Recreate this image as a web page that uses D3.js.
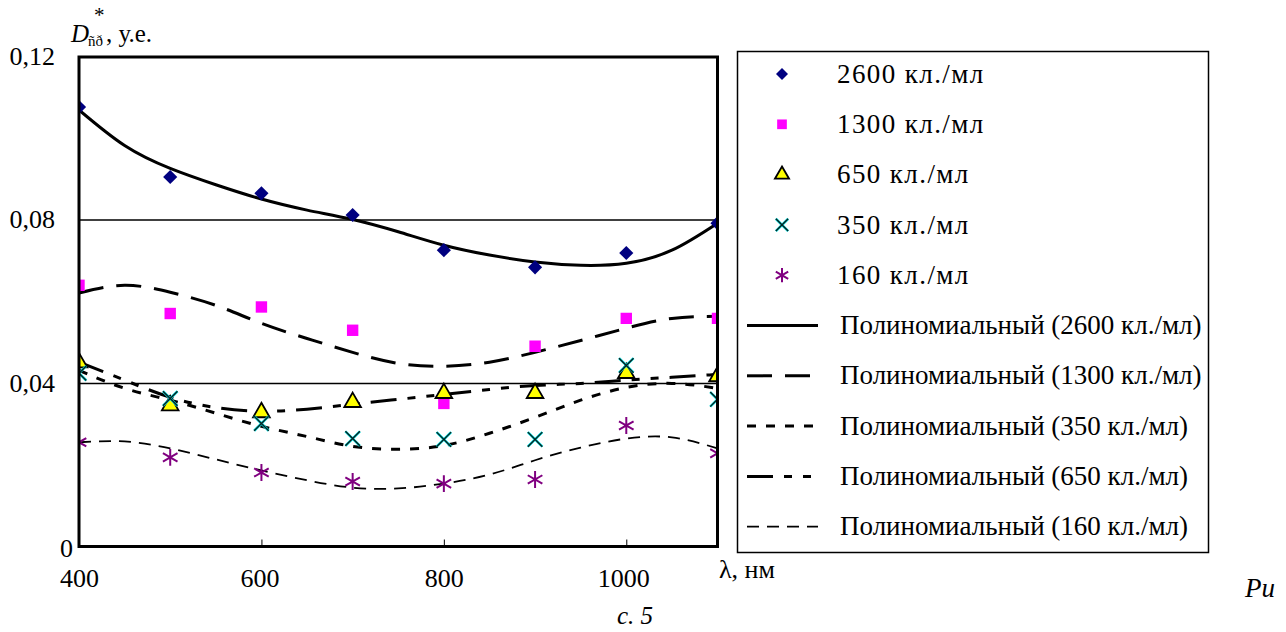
<!DOCTYPE html>
<html><head><meta charset="utf-8">
<script src="https://cdn.jsdelivr.net/npm/d3@7"></script>
<style>
body{margin:0;background:#fff}
svg{display:block}
text{font-family:"Liberation Serif","Times New Roman",serif;fill:#000}
</style>
</head><body>
<svg id="c" width="1286" height="632"></svg>
<script>
// ---- data ----
const wavelengths = [400, 500, 600, 700, 800, 900, 1000, 1100];
const s2600 = [0.1075, 0.0904, 0.0864, 0.0811, 0.0725, 0.0683, 0.0718, 0.0791];
const s1300 = [0.0639, 0.0570, 0.0586, 0.0529, 0.0350, 0.0490, 0.0558, 0.0558];
const s650  = [0.0450, 0.0345, 0.0328, 0.0353, 0.0375, 0.0375, 0.0424, 0.0416];
const s350  = [0.0424, 0.0362, 0.0301, 0.0264, 0.0262, 0.0262, 0.0443, 0.0360];
const s160  = [0.0255, 0.0218, 0.0181, 0.0159, 0.0154, 0.0164, 0.0296, 0.0228];

// trend lines
const trendX = [400, 450, 500, 550, 600, 650, 700, 750, 800, 850, 900, 950, 1000, 1050, 1100];
const t2600 = [0.1068, 0.0981, 0.0925, 0.0885, 0.0850, 0.0823, 0.0800, 0.0770, 0.0737, 0.0713, 0.0696, 0.0688, 0.0693, 0.0725, 0.0791];
const t1300 = [0.0620, 0.0639, 0.0622, 0.0590, 0.0546, 0.0509, 0.0475, 0.0448, 0.0441, 0.0451, 0.0475, 0.0504, 0.0534, 0.0558, 0.0563];
const t650  = [0.0451, 0.0407, 0.0365, 0.0340, 0.0331, 0.0336, 0.0348, 0.0360, 0.0372, 0.0384, 0.0394, 0.0399, 0.0407, 0.0414, 0.0421];
const t350  = [0.0431, 0.0387, 0.0358, 0.0326, 0.0294, 0.0269, 0.0245, 0.0238, 0.0247, 0.0277, 0.0316, 0.0358, 0.0389, 0.0399, 0.0387];
const t160  = [0.0255, 0.0257, 0.0240, 0.0213, 0.0186, 0.0162, 0.0144, 0.0142, 0.0154, 0.0176, 0.0211, 0.0242, 0.0264, 0.0267, 0.0240];

const seriesNames = ["2600 кл./мл", "1300 кл./мл", "650 кл./мл", "350 кл./мл", "160 кл./мл"];
const trendNames = ["Полиномиальный (2600 кл./мл)", "Полиномиальный (1300 кл./мл)", "Полиномиальный (350 кл./мл)", "Полиномиальный (650 кл./мл)", "Полиномиальный (160 кл./мл)"];
const yTicks = [0, 0.04, 0.08, 0.12];
const xTicks = [400, 600, 800, 1000];

// ---- styles ----
const markers = [
  {vals: s2600, type: "diamond"},
  {vals: s1300, type: "square"},
  {vals: s650, type: "triangle"},
  {vals: s350, type: "times"},
  {vals: s160, type: "asterisk"}
];
const trends = [
  {vals: t2600, dash: null, w: 3},
  {vals: t1300, dash: "25,13", w: 3},
  {vals: t350, dash: "9,10", w: 3},
  {vals: t650, dash: "26,11,8,11,8,11", w: 3},
  {vals: t160, dash: "12,8", w: 1.8}
];

const svg = d3.select("#c");
const L = 79, R = 717.5, T = 56, B = 546.5;
const x = d3.scaleLinear().domain([400, 1100]).range([L, R]);
const y = d3.scaleLinear().domain([0, 0.12]).range([B, T]);

svg.append("defs").append("clipPath").attr("id", "pc")
  .append("rect").attr("x", L).attr("y", T).attr("width", R - L).attr("height", B - T);

// gridlines
svg.append("g").attr("transform", `translate(${L},0)`)
  .call(d3.axisLeft(y).tickValues([0.04, 0.08]).tickSize(-(R - L)).tickFormat(""))
  .call(g => g.select(".domain").remove())
  .call(g => g.selectAll("line").attr("stroke", "#000").attr("stroke-width", 1.3));

// inner x ticks
svg.append("g").attr("transform", `translate(0,${B})`)
  .call(d3.axisBottom(x).tickValues([600, 800, 1000]).tickSize(-7).tickFormat(""))
  .call(g => g.select(".domain").remove())
  .call(g => g.selectAll("line").attr("stroke", "#000").attr("stroke-width", 1));

// y labels
svg.append("g").attr("transform", `translate(${L},0)`)
  .call(d3.axisLeft(y).tickValues(yTicks).tickSize(0).tickPadding(24)
    .tickFormat(d => d === 0 ? "0" : d3.format(".2f")(d).replace(".", ",")))
  .call(g => g.select(".domain").remove())
  .call(g => g.selectAll("text").attr("font-size", 26).attr("font-family", '"Liberation Serif",serif')
    .attr("dx", d => d === 0 ? 18 : 0).attr("dy", d => d === 0 ? "0.4em" : "0.32em"));

// x labels
svg.append("g").attr("transform", `translate(0,${B})`)
  .call(d3.axisBottom(x).tickValues(xTicks).tickSize(0).tickPadding(22).tickFormat(d3.format("d")))
  .call(g => g.select(".domain").remove())
  .call(g => g.selectAll("text").attr("font-size", 26).attr("font-family", '"Liberation Serif",serif')
    .attr("dx", d => d >= 1000 ? -3 : (d === 600 ? -2 : 0)));

// trend lines
const plot = svg.append("g").attr("clip-path", "url(#pc)");
const line = d3.line().x((d, i) => x(trendX[i])).y(d => y(d)).curve(d3.curveNatural);
trends.forEach(t => {
  plot.append("path").attr("d", line(t.vals)).attr("fill", "none").attr("stroke", "#000")
    .attr("stroke-width", t.w).attr("stroke-dasharray", t.dash)
    .attr("stroke-linejoin", "round");
});

// markers
function drawMarker(g, type, cx, cy, scale) {
  const s = scale || 1;
  if (type === "diamond") {
    g.append("path").attr("d", d3.symbol(d3.symbolSquare, 100 * s * s)())
      .attr("transform", `translate(${cx},${cy}) rotate(45)`).attr("fill", "#000080");
  } else if (type === "square") {
    g.append("path").attr("d", d3.symbol(d3.symbolSquare, 130 * s * s)())
      .attr("transform", `translate(${cx},${cy})`).attr("fill", "#ff00ff");
  } else if (type === "triangle") {
    g.append("path").attr("d", d3.symbol(d3.symbolTriangle, 120 * s * s)())
      .attr("transform", `translate(${cx},${cy})`).attr("fill", "#ffff00")
      .attr("stroke", "#000").attr("stroke-width", 1.8).attr("stroke-linejoin", "miter");
  } else if (type === "times") {
    const p = d3.symbol(d3.symbolTimes, 140 * s * s)();
    g.append("path").attr("d", p).attr("transform", `translate(${cx},${cy})`)
      .attr("fill", "none").attr("stroke", "#00e0e0").attr("stroke-width", 2.6);
    g.append("path").attr("d", p).attr("transform", `translate(${cx},${cy})`)
      .attr("fill", "none").attr("stroke", "#0a2020").attr("stroke-width", 1.4);
  } else if (type === "asterisk") {
    g.append("path").attr("d", d3.symbol(d3.symbolAsterisk, 200 * s * s)())
      .attr("transform", `translate(${cx},${cy})`)
      .attr("fill", "none").attr("stroke", "#800080").attr("stroke-width", 2);
  }
}
markers.forEach(m => {
  m.vals.forEach((v, i) => drawMarker(plot, m.type, x(wavelengths[i]), y(v), 1));
});

// plot border
svg.append("rect").attr("x", L).attr("y", T + 1).attr("width", R - L).attr("height", B - T - 1)
  .attr("fill", "none").attr("stroke", "#000").attr("stroke-width", 3);

// y title
svg.append("text").attr("x", 71).attr("y", 42).attr("font-size", 25).attr("font-style", "italic").text("D");
svg.append("text").attr("x", 88).attr("y", 46).attr("font-size", 15).text("ñð");
svg.append("text").attr("x", 94).attr("y", 22).attr("font-size", 21).text("*");
svg.append("text").attr("x", 106).attr("y", 42).attr("font-size", 25).text(", у.е.");

// x title
svg.append("text").attr("x", 719).attr("y", 578).attr("font-size", 26).text("λ, нм");

// caption fragments
svg.append("text").attr("x", 1245).attr("y", 597).attr("font-size", 27).attr("font-style", "italic").text("Ри");
svg.append("text").attr("x", 617).attr("y", 624).attr("font-size", 25).attr("font-style", "italic").text("с. 5");

// legend
const lg = svg.append("g");
lg.append("rect").attr("x", 737.5).attr("y", 51.5).attr("width", 471).attr("height", 501)
  .attr("fill", "#fff").attr("stroke", "#000").attr("stroke-width", 1.5);
const rowY = i => 74 + i * 50.3;
seriesNames.forEach((n, i) => {
  drawMarker(lg, markers[i].type, 782, rowY(i), 0.85);
  lg.append("text").attr("x", 837).attr("y", rowY(i)).attr("dy", "0.32em").attr("font-size", 27)
    .attr("letter-spacing", 1.4).text(n);
});
trendNames.forEach((n, j) => {
  const i = j + 5;
  lg.append("line").attr("x1", 747).attr("x2", 818).attr("y1", rowY(i)).attr("y2", rowY(i))
    .attr("stroke", "#000").attr("stroke-width", trends[j].w).attr("stroke-dasharray", trends[j].dash);
  lg.append("text").attr("x", 840).attr("y", rowY(i)).attr("dy", "0.32em").attr("font-size", 27).text(n);
});
</script>
</body></html>
